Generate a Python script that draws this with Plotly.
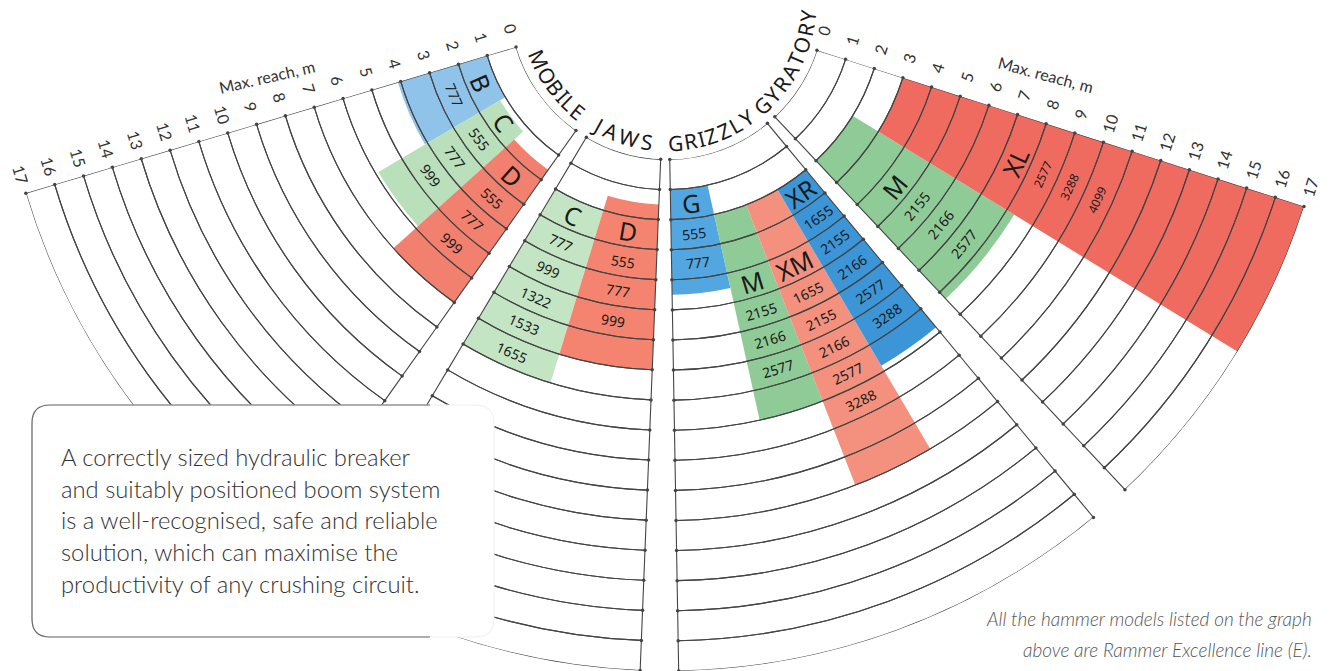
import math
import plotly.graph_objects as go

# ---------------- data ----------------
sectors = ["MOBILE", "JAWS", "GRIZZLY", "GYRATORY"]
reach_ticks = list(range(0, 18))          # Max. reach, m

groups = ["B", "C", "D", "C", "D", "G", "M", "XM", "XR", "M", "XL"]
group_sector = ["MOBILE", "MOBILE", "MOBILE", "JAWS", "JAWS",
                "GRIZZLY", "GRIZZLY", "GRIZZLY", "GRIZZLY", "GYRATORY", "GYRATORY"]
reach_min = [1.0, 1.2, 1.6, 2.0, 1.5, 1.0, 2.0, 2.0, 2.0, 2.0, 3.0]
reach_max = [4.1, 5.9, 7.0, 8.0, 7.0, 4.5, 9.0, 12.0, 8.8, 8.3, 17.0]
group_models = [
    ["777"],
    ["555", "777", "999"],
    ["555", "777", "999"],
    ["777", "999", "1322", "1533", "1655"],
    ["555", "777", "999"],
    ["555", "777"],
    ["2155", "2166", "2577"],
    ["1655", "2155", "2166", "2577", "3288"],
    ["1655", "2155", "2166", "2577", "3288"],
    ["2155", "2166", "2577"],
    ["2577", "3288", "4099"],
]

box_lines = ["A correctly sized hydraulic breaker",
             "and suitably positioned boom system",
             "is a well-recognised, safe and reliable",
             "solution, which can maximise the",
             "productivity of any crushing circuit."]
note_lines = ["All the hammer models listed on the graph",
              "above are Rammer Excellence line (E)."]
axis_title = "Max. reach, m"

# ---------------- layout / style constants ----------------
W, H = 1330, 671
CX, CY = 667.0, 2.0           # fan centre, px
R_OUT, R_IN = 669.0, 157.5    # px radius of reach 17 and reach 0
R_MAX = 17
# angular spans (phi = degrees to the left of straight down)
sector_span = [(35.3, 73.4), (2.3, 30.8), (-39.6, -1.0), (-72.2, -43.2)]
sector_text_span = [(66.0, 39.0), (29.2, 8.0), (-3.3, -34.4), (-42.4, -84.5)]
group_span = [(59.5, 73.4), (48.0, 59.5), (35.3, 48.0), (17.0, 30.8), (2.3, 17.0),
              (-12.5, -1.0), (-21.3, -12.5), (-30.5, -21.3), (-39.6, -30.5),
              (-58.5, -43.2), (-72.2, -58.5)]
group_label_ring = [1, 1, 2, 2, 2, 1, 4, 4, 2, 4, 7]
group_color = ["#8fc3e9", "#b9dfbb", "#f2806f", "#c4e5c4", "#f4846f",
               "#52a7e0", "#8fcb96", "#f4917e", "#3b95d6", "#8fcb96", "#ef6b5f"]
group_num_size = [14, 14, 14, 14, 14, 14, 14, 14, 14, 14, 12]
GRID = "#444444"
LBL_FONT = "Noto Sans"
TXT_FONT = "Lato"


def theta(phi):
    return 270.0 - phi


def rpx(r):
    return R_IN + (R_OUT - R_IN) * r / R_MAX


def pix(d, phi):
    p = math.radians(phi)
    return CX - d * math.sin(p), CY + d * math.cos(p)


def paper(x, y):
    return x / W, 1 - y / H


def ann(text, x, y, size, angle=0, family=LBL_FONT, color="#1a1a1a", weight=None, **kw):
    px_, py_ = paper(x, y)
    font = dict(size=size, family=family, color=color)
    if weight:
        font["weight"] = weight
    d = dict(text=text, x=px_, y=py_, xref="paper", yref="paper", showarrow=False,
             textangle=angle, font=font, xanchor="center", yanchor="middle")
    d.update(kw)
    return d


fig = go.Figure()

# coloured model bands
fig.add_trace(go.Barpolar(
    theta=[theta((a + b) / 2) for a, b in group_span],
    width=[abs(b - a) for a, b in group_span],
    base=reach_min,
    r=[hi - lo for lo, hi in zip(reach_min, reach_max)],
    marker=dict(color=group_color, line=dict(width=0)),
    hoverinfo="skip", showlegend=False))

# ring grid per sector
for name, (a, b) in zip(sectors, sector_span):
    n = len(reach_ticks) - 1
    fig.add_trace(go.Barpolar(
        theta=[theta((a + b) / 2)] * n,
        width=[abs(b - a)] * n,
        base=reach_ticks[:-1],
        r=[1] * n,
        marker=dict(color="rgba(0,0,0,0)", line=dict(color=GRID, width=1.1)),
        hoverinfo="skip", showlegend=False, name=name))

# small tick dots where rings meet the sector edges
edge_theta, edge_r = [], []
for a, b in sector_span:
    for r in reach_ticks:
        edge_theta += [theta(a), theta(b)]
        edge_r += [r, r]
fig.add_trace(go.Scatterpolar(
    theta=edge_theta, r=edge_r, mode="markers",
    marker=dict(size=3.5, color=GRID), hoverinfo="skip", showlegend=False))

annotations = []

# labels inside the coloured bands
for g, (a, b), ring, models, ns in zip(groups, group_span, group_label_ring,
                                        group_models, group_num_size):
    mid = (a + b) / 2
    x, y = pix(rpx(ring + 0.5), mid)
    annotations.append(ann(g, x, y, 25, mid))
    for k, m in enumerate(models):
        x, y = pix(rpx(ring + 1.5 + k), mid)
        annotations.append(ann(m, x, y, ns, mid))

# sector names along the inner arc
CHAR_W = {"M": 1.0, "O": 0.95, "B": 0.75, "I": 0.4, "L": 0.65, "E": 0.7, "J": 0.55,
          "A": 0.85, "W": 1.15, "S": 0.7, "G": 0.9, "R": 0.8, "Z": 0.75, "Y": 0.8, "T": 0.75}
for word, (s0, s1) in zip(sectors, sector_text_span):
    w = [CHAR_W.get(c, 0.75) for c in word]
    cum = [0.0]
    for i in range(1, len(word)):
        cum.append(cum[-1] + (w[i - 1] + w[i]) / 2)
    for c, s in zip(word, cum):
        phi = s0 + (s1 - s0) * s / cum[-1]
        x, y = pix(141, phi)
        annotations.append(ann(c, x, y, 21, phi))

# reach tick labels on both outer edges
phiL, phiR = sector_span[0][1], sector_span[3][0]
for r in reach_ticks:
    x, y = pix(rpx(r), phiL)
    p = math.radians(phiL)
    annotations.append(ann(str(r), x - 19 * math.cos(p), y - 19 * math.sin(p), 16, phiL,
                           family=TXT_FONT, color="#333333"))
    x, y = pix(rpx(r), phiR)
    p = math.radians(phiR)
    annotations.append(ann(str(r), x + 20 * math.cos(p), y + 20 * math.sin(p), 16, phiR,
                           family=TXT_FONT, color="#333333"))
x, y = pix(rpx(8.2), phiL)
p = math.radians(phiL)
annotations.append(ann(axis_title, x - 43 * math.cos(p), y - 43 * math.sin(p), 16, -13,
                       family=TXT_FONT, color="#333333"))
x, y = pix(rpx(7.5), phiR)
p = math.radians(phiR)
annotations.append(ann(axis_title, x + 47 * math.cos(p), y + 47 * math.sin(p), 16, 15,
                       family=TXT_FONT, color="#333333"))

# text box
BX0, BY0, BX1, BY1, RAD = 32, 405, 494, 637, 18
for i, line in enumerate(box_lines):
    annotations.append(ann(line, 59, 457 + i * 31.7, 23.8, family=TXT_FONT, color="#333333",
                           weight=300, xanchor="left"))
for i, line in enumerate(note_lines):
    annotations.append(ann("<i>" + line + "</i>", 1314, 618 + i * 31, 19, family=TXT_FONT,
                           color="#555555", weight=300, xanchor="right"))


def P(x, y):
    a, b = paper(x, y)
    return f"{a:.5f},{b:.5f}"


box_fill = (f"M {P(BX0 + RAD, BY0)} L {P(BX1 - RAD, BY0)} Q {P(BX1, BY0)} {P(BX1, BY0 + RAD)} "
            f"L {P(BX1, BY1 - RAD)} Q {P(BX1, BY1)} {P(BX1 - RAD, BY1)} L {P(BX0 + RAD, BY1)} "
            f"Q {P(BX0, BY1)} {P(BX0, BY1 - RAD)} L {P(BX0, BY0 + RAD)} Q {P(BX0, BY0)} {P(BX0 + RAD, BY0)} Z")
box_edge = (f"M {P(430, BY0)} L {P(BX0 + RAD, BY0)} Q {P(BX0, BY0)} {P(BX0, BY0 + RAD)} "
            f"L {P(BX0, BY1 - RAD)} Q {P(BX0, BY1)} {P(BX0 + RAD, BY1)} L {P(430, BY1)}")
shapes = [
    dict(type="path", path=box_fill, xref="paper", yref="paper", fillcolor="white",
         line=dict(color="#eeeeee", width=1), layer="above"),
    dict(type="path", path=box_edge, xref="paper", yref="paper",
         line=dict(color="#666666", width=1.2), layer="above"),
]

# polar placement: fan centre and radius fixed through the domain
t_lo, t_hi = theta(sector_span[0][1]), theta(sector_span[3][0])
bx0 = min(math.cos(math.radians(t_lo)), math.cos(math.radians(t_hi)))
bx1 = max(math.cos(math.radians(t_lo)), math.cos(math.radians(t_hi)))
dom_x = [(CX + R_OUT * bx0) / W, (CX + R_OUT * bx1) / W]
dom_y = [max(0.0, 1 - (CY + R_OUT) / H), 1 - CY / H]

fig.update_layout(
    width=W, height=H,
    margin=dict(l=0, r=0, t=0, b=0),
    paper_bgcolor="white",
    showlegend=False,
    polar=dict(
        domain=dict(x=dom_x, y=dom_y),
        sector=[t_lo, t_hi],
        hole=R_IN / R_OUT,
        bgcolor="white",
        barmode="overlay",
        radialaxis=dict(visible=False, range=[0, R_MAX]),
        angularaxis=dict(visible=False, rotation=0, direction="counterclockwise",
                         thetaunit="degrees"),
    ),
    annotations=annotations,
    shapes=shapes,
)

fig.write_html("out.html", config={"displayModeBar": False},
               post_script="document.body.style.margin='0';document.body.style.overflow='hidden';")
